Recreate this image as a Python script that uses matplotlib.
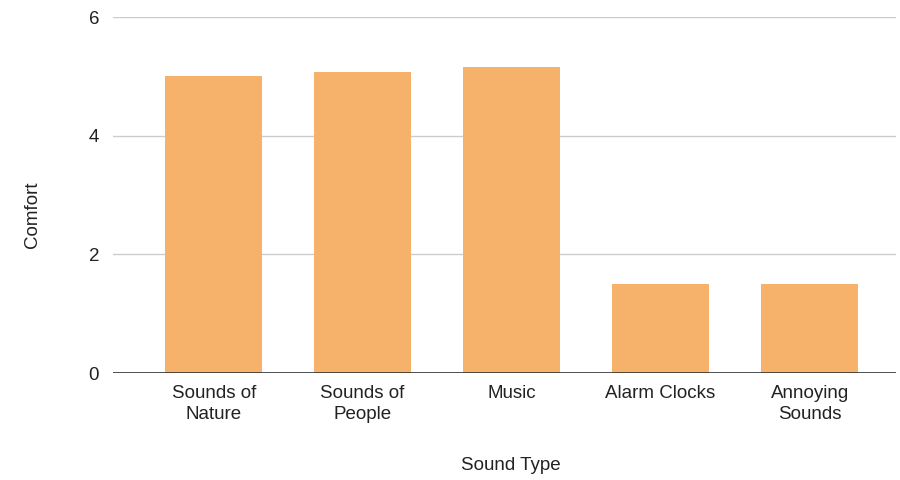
import matplotlib
matplotlib.use("Agg")
import matplotlib.pyplot as plt

categories = ["Sounds of\nNature", "Sounds of\nPeople", "Music", "Alarm Clocks", "Annoying\nSounds"]
comfort = [5.0, 5.08, 5.16, 1.5, 1.5]
y_ticks = [0, 2, 4, 6]

plt.rcParams["font.family"] = ["Liberation Sans", "DejaVu Sans"]

fig = plt.figure(figsize=(9, 4.8), dpi=100)
ax = fig.add_axes([113 / 900, 1 - 373 / 480, (896 - 113) / 900, (373 - 17) / 480])

x = list(range(len(categories)))
ax.bar(x, comfort, width=0.648, color="#F6B26B", zorder=3)

ax.set_xlim(-0.676, 4.58)
ax.set_ylim(0, 6)
ax.set_yticks(y_ticks)
ax.set_yticklabels([str(t) for t in y_ticks])
ax.set_xticks(x)
ax.set_xticklabels(categories, linespacing=1.25)

ax.grid(axis="y", color="#cccccc", linewidth=1, zorder=0)
ax.axhline(0, color="#333333", linewidth=1.2, zorder=4)
for side in ["top", "right", "left", "bottom"]:
    ax.spines[side].set_visible(False)

ax.tick_params(axis="both", length=0, labelsize=13.5, colors="#222222")
ax.tick_params(axis="y", pad=10)
ax.tick_params(axis="x", pad=9)

fig.text(32 / 900, 1 - 215 / 480, "Comfort", rotation=90, ha="center", va="center",
         fontsize=13.5, color="#222222")
fig.text(511 / 900, 1 - 466 / 480, "Sound Type", ha="center", va="center",
         fontsize=13.5, color="#222222")

fig.savefig("out.png", dpi=100, facecolor="white")
